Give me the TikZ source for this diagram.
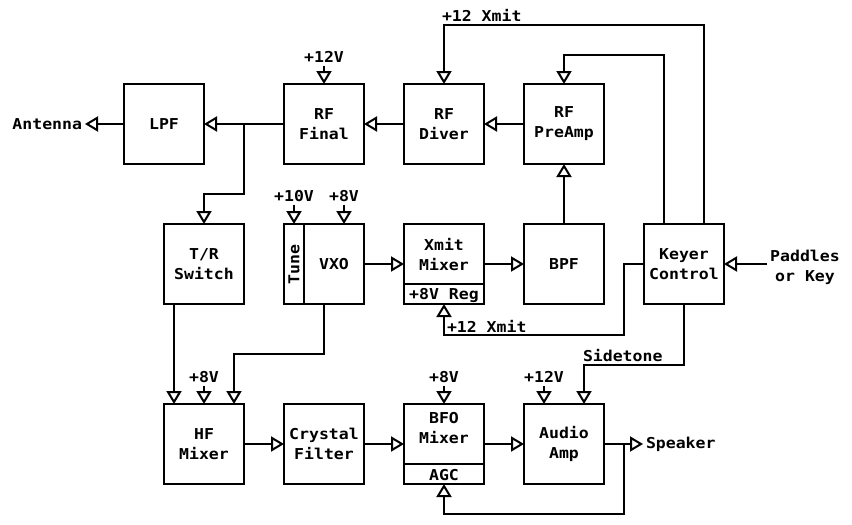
\documentclass[tikz,border=0pt]{standalone}
\usepackage{fontspec}
\setmonofont[FakeStretch=1.1]{DejaVu Sans Mono}
\usetikzlibrary{arrows.meta,calc}
\begin{document}
\begin{tikzpicture}[x=1pt,y=-1pt,
  line width=2pt,
  every node/.style={font=\ttfamily\bfseries\fontsize{15}{20}\selectfont},
  box/.style={draw,minimum width=80pt,minimum height=80pt,inner sep=0pt,outer sep=0pt,align=center},
  txt/.style={inner sep=0pt,align=center},
  lbl/.style={inner sep=0pt,outer sep=3pt,align=center},
  sig/.style={-{Triangle[open,length=13pt,width=15pt,line width=2pt]}}]
\useasboundingbox (0,0) rectangle (852,525);

% boxes
\node[box] (lpf) at (164,124) {LPF};
\node[box] (final) at (324,124) {RF\\Final};
\node[box] (driver) at (444,124) {RF\\Diver};
\node[box] (preamp) at (564,124) {RF\\PreAmp};
\node[box] (tr) at (204,264) {T/R\\Switch};
\node[box] (vxo) at (324,264) {};
\node[txt] (vxot) at (334,264.5) {VXO};
\node[txt,rotate=90] (tune) at (294,264.5) {Tune};
\node[box] (xmix) at (444,264) {};
\node[txt] (xmixt) at (444,255) {Xmit\\Mixer};
\node[txt] (reg) at (444,295) {+8V Reg};
\node[box] (bpf) at (564,264) {BPF};
\node[box] (keyer) at (684,264) {Keyer\\Control};
\node[box] (hf) at (204,444) {HF\\Mixer};
\node[box] (xtal) at (324,444) {Crystal\\Filter};
\node[box] (bfo) at (444,444) {};
\node[txt] (bfot) at (444,428) {BFO\\Mixer};
\node[txt] (agc) at (444,475) {AGC};
\node[box] (audio) at (564,444) {Audio\\Amp};

% dividers
\draw ($(vxo.north west)+(20,0)$) -- ($(vxo.south west)+(20,0)$);
\draw ($(xmix.south west)+(0,-20)$) -- ($(xmix.south east)+(0,-20)$);
\draw ($(bfo.south west)+(0,-20)$) -- ($(bfo.south east)+(0,-20)$);

% labels
\node[lbl,anchor=east] (ant) at (85,124) {Antenna};
\node[lbl] (v12f) at (324,57) {+12V};
\node[lbl,anchor=west] (x12t) at (439,15) {+12 Xmit};
\node[lbl] (v10) at (294,196) {+10V};
\node[lbl] (v8v) at (344,196) {+8V};
\node[lbl,anchor=west] (x12b) at (444,326) {+12 Xmit};
\node[lbl] (pad) at (805,267) {Paddles\\or Key};
\node[lbl,anchor=west] (side) at (580,356) {Sidetone};
\node[lbl] (v8h) at (204,377) {+8V};
\node[lbl] (v8b) at (444,377) {+8V};
\node[lbl] (v12a) at (544,377) {+12V};
\node[lbl,anchor=west] (spk) at (643,444) {Speaker};

% coordinates
\coordinate (tap) at ($(lpf.east)!0.5!(final.west)$);
\coordinate (k1) at ($(keyer.north)+(20,0)$);
\coordinate (k2) at ($(keyer.north)+(-20,0)$);
\coordinate (hf1) at ($(hf.north)+(-30,0)$);
\coordinate (hf3) at ($(hf.north)+(30,0)$);
\coordinate (au1) at ($(audio.north)+(-20,0)$);
\coordinate (au2) at ($(audio.north)+(20,0)$);
\coordinate (br) at ($(audio.east)+(20,0)$);

% top chain
\draw[sig] (preamp.west) -- (driver.east);
\draw[sig] (driver.west) -- (final.east);
\draw[sig] (final.west) -- (lpf.east);
\draw[sig] (lpf.west) -- (ant.east);
\draw[sig] (tap) -- (tap |- 0,194) -| (tr.north);
\draw[sig] (v12f.south) -- (v12f.south |- final.north);
\draw[sig] (k1) -- (k1 |- 0,25) -| (driver.north);
\draw[sig] (k2) -- (k2 |- 0,55) -| (preamp.north);
\draw[sig] (bpf.north) -- (preamp.south);

% middle
\draw[sig] (v10.south) -- (v10.south |- vxo.north);
\draw[sig] (v8v.south) -- (v8v.south |- vxo.north);
\draw[sig] (vxo.east) -- (xmix.west);
\draw[sig] (xmix.east) -- (bpf.west);
\draw[sig] (keyer.west) -| (624,335) -| (xmix.south);
\draw[sig] (pad.west |- keyer.east) -- (keyer.east);
\draw[sig] (keyer.south) |- (au2 |- 0,365) -- (au2);

% bottom
\draw[sig] (hf1 |- tr.south) -- (hf1);
\draw[sig] (v8h.south) -- (hf.north);
\draw[sig] (vxo.south) |- (hf3 |- 0,354) -- (hf3);
\draw[sig] (hf.east) -- (xtal.west);
\draw[sig] (xtal.east) -- (bfo.west);
\draw[sig] (bfo.east) -- (audio.west);
\draw[sig] (v8b.south) -- (bfo.north);
\draw[sig] (v12a.south) -- (au1);
\draw[sig] (audio.east) -- (spk.west);
\draw[sig] (br) |- (bfo.south |- 0,514) -- (bfo.south);
\end{tikzpicture}
\end{document}
